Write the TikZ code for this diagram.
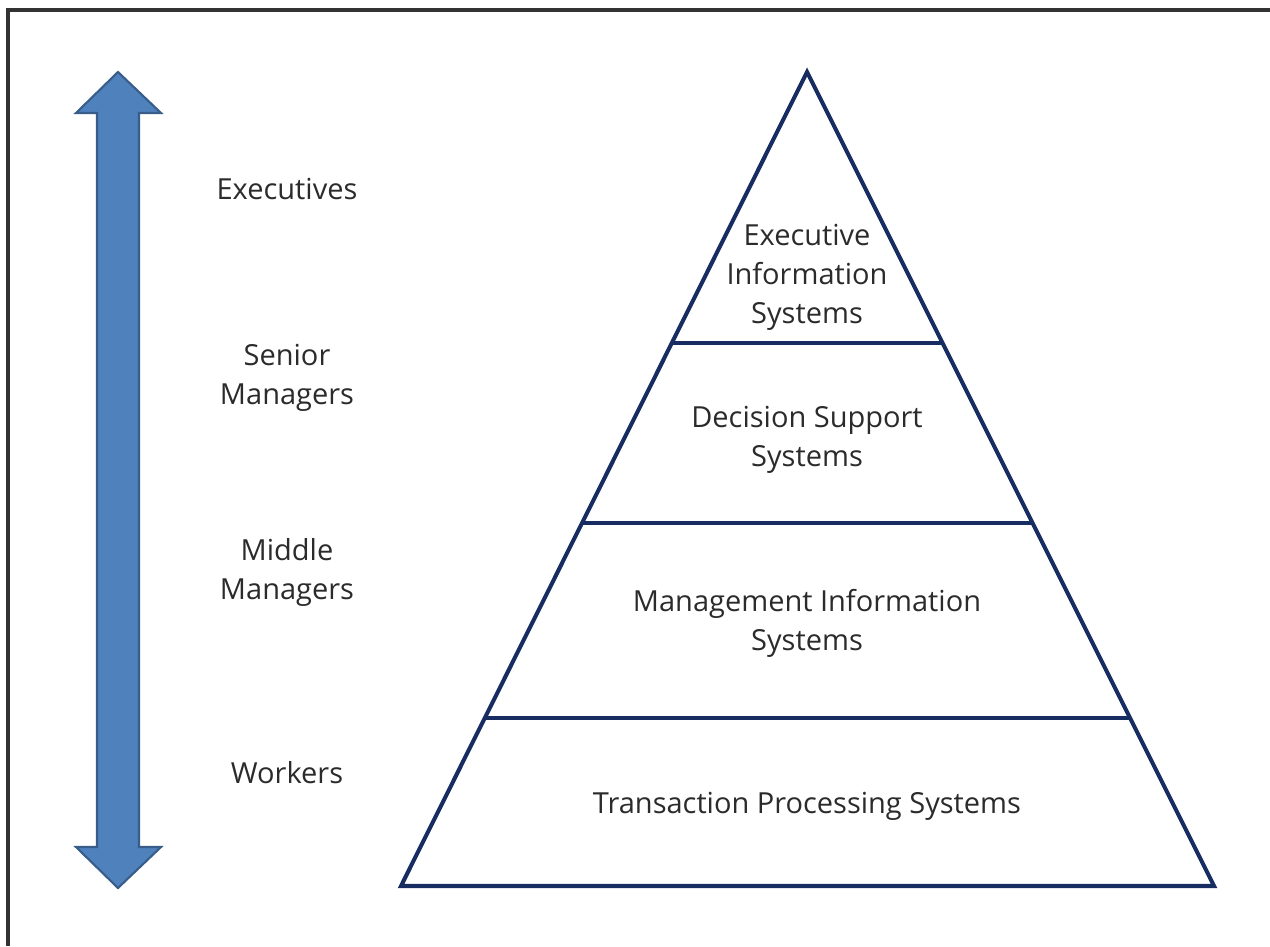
\documentclass[tikz,border=0pt]{standalone}
\usepackage{fontspec}
\setmainfont{Open Sans}
\usetikzlibrary{calc}
\definecolor{arrowblue}{HTML}{4F81BD}
\definecolor{arrowedge}{HTML}{385D8A}
\definecolor{pyramidnavy}{HTML}{172C60}
\definecolor{textgray}{HTML}{2B2B2B}
\begin{document}
\begin{tikzpicture}[x=0.02cm, y=-0.02cm]
            \tikzstyle{role} = [text=textgray, align=center, font=\fontsize{16.5}{22.2}\selectfont]
            \tikzstyle{tier} = [text=textgray, align=center, font=\fontsize{16.5}{22.2}\selectfont]
            \tikzstyle{edge} = [draw=pyramidnavy, line width=2.3pt, line join=miter]

            \useasboundingbox (0,0) rectangle (1270,946);
            \draw [line width=1.8pt, color=black!80] (8,946) -- (8,10) -- (1270,10);

            % double arrow
            \draw [fill=arrowblue, draw=arrowedge, line width=1.2pt, line join=miter]
                (118,72) -- (161,113) -- (139,113) -- (139,847) -- (161,847)
                -- (118,888) -- (76,847) -- (97,847) -- (97,113) -- (76,113) -- cycle;

            % pyramid
            \coordinate (apex) at (807,72);
            \coordinate (bl) at (401,886);
            \coordinate (br) at (1214,886);
            \draw [edge] (apex) -- (br) -- (bl) -- cycle;
            \foreach \t/\n in {0.333/one, 0.554/two, 0.794/three} {
                \coordinate (l\n) at ($(apex)!\t!(bl)$);
                \coordinate (r\n) at ($(apex)!\t!(br)$);
                \draw [edge] (l\n) -- (r\n);
            }

            % roles
            \node [role] (exec) at (287,189) {Executives};
            \node [role] (senior) at (287,378) {Senior\\Managers};
            \node [role] (middle) at (287,572) {Middle\\Managers};
            \node [role] (workers) at (287,773) {Workers};

            % systems
            \node [tier] (eis) at (807,277) {Executive\\Information\\Systems};
            \node [tier] (dss) at (807,440) {Decision Support\\Systems};
            \node [tier] (mis) at (807,623) {Management Information\\Systems};
            \node [tier] (tps) at (807,806) {Transaction Processing Systems};
        \end{tikzpicture}
\end{document}
